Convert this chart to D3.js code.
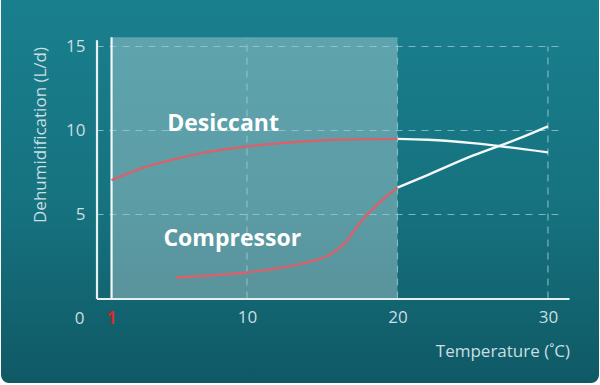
<!DOCTYPE html>
<html>
<head>
<meta charset="utf-8">
<script src="https://cdn.jsdelivr.net/npm/d3@7"></script>
<style>
  html, body { margin: 0; padding: 0; background: #ffffff; }
  svg { display: block; font-family: "Open Sans", "Noto Sans", sans-serif; }
</style>
</head>
<body>
<script>
// desiccant curve (temperature, L/d)
var desiccantT = [1, 3, 5, 7, 10, 13, 16, 20, 22, 25, 27, 30];
var desiccantV = [7.05, 7.75, 8.25, 8.65, 9.05, 9.3, 9.45, 9.5, 9.45, 9.25, 9.05, 8.7];

// compressor curve
var compressorT = [5.3, 8, 10, 12, 14, 15.5, 16.5, 17.5, 18.5, 19.3, 20, 22, 25, 28, 30];
var compressorV = [1.25, 1.4, 1.55, 1.8, 2.15, 2.6, 3.3, 4.5, 5.45, 6.1, 6.6, 7.35, 8.5, 9.5, 10.25];

var xTicks = [10, 20, 30];
var yTicks = [5, 10, 15];
var shadeFrom = 1, shadeTo = 20;

var width = 600, height = 385;

var x = d3.scaleLinear().domain([0, 31.4]).range([96.5, 569]);
var y = d3.scaleLinear().domain([0, 15.4]).range([298.5, 39.8]);

var svg = d3.select("body").append("svg")
    .attr("width", width)
    .attr("height", height);

var defs = svg.append("defs");
var grad = defs.append("linearGradient")
    .attr("id", "bg")
    .attr("x1", 0).attr("y1", 0).attr("x2", 0).attr("y2", 1);
grad.append("stop").attr("offset", "0%").attr("stop-color", "#1a808e");
grad.append("stop").attr("offset", "55%").attr("stop-color", "#16727f");
grad.append("stop").attr("offset", "100%").attr("stop-color", "#0f5965");

svg.append("rect")
    .attr("x", 1).attr("y", -10)
    .attr("width", 598).attr("height", 393)
    .attr("rx", 8)
    .attr("fill", "url(#bg)");

// shaded region
svg.append("rect")
    .attr("x", x(shadeFrom))
    .attr("y", y(15.55))
    .attr("width", x(shadeTo) - x(shadeFrom))
    .attr("height", y(0) - y(15.55))
    .attr("fill", "#ffffff")
    .attr("fill-opacity", 0.3);

// grid
var grid = svg.append("g")
    .attr("stroke", "#9fcbd2")
    .attr("stroke-opacity", 0.75)
    .attr("stroke-width", 1.2)
    .attr("stroke-dasharray", "7,6");

grid.selectAll(".hgrid")
    .data(yTicks)
    .enter().append("line")
    .attr("x1", x(0)).attr("x2", x(30.8))
    .attr("y1", function(d) { return y(d); })
    .attr("y2", function(d) { return y(d); });

grid.selectAll(".vgrid")
    .data(xTicks)
    .enter().append("line")
    .attr("x1", function(d) { return x(d); })
    .attr("x2", function(d) { return x(d); })
    .attr("y1", y(0))
    .attr("y2", function(d) { return d < 30 ? y(15.5) : y(15); });

// axes
var yAxis = svg.append("g")
    .attr("transform", "translate(" + x(0) + ",0)")
    .call(d3.axisLeft(y).tickValues(yTicks).tickSize(0).tickPadding(11));

var xAxis = svg.append("g")
    .attr("transform", "translate(0," + y(0) + ")")
    .call(d3.axisBottom(x).tickValues(xTicks).tickSize(0).tickPadding(12));

[yAxis, xAxis].forEach(function(a) {
    a.select(".domain")
        .attr("stroke", "#e6f0f1")
        .attr("stroke-width", 2.2);
    a.selectAll("text")
        .attr("fill", "#c9dfe2")
        .style("font-size", "17px")
        .style("font-family", "'Open Sans', 'Noto Sans', sans-serif");
});

// origin label
svg.append("text")
    .attr("x", x(0) - 17)
    .attr("y", y(0) + 25)
    .attr("text-anchor", "middle")
    .attr("fill", "#c9dfe2")
    .style("font-size", "17px")
    .text("0");

svg.append("text")
    .attr("x", x(1))
    .attr("y", y(0) + 25)
    .attr("text-anchor", "middle")
    .attr("fill", "#d42a2a")
    .style("font-size", "17px")
    .style("font-weight", "bold")
    .text("1");

// vertical marker at 1
svg.append("line")
    .attr("x1", x(shadeFrom)).attr("x2", x(shadeFrom))
    .attr("y1", y(15.55)).attr("y2", y(0))
    .attr("stroke", "#f2f7f7")
    .attr("stroke-width", 2.2);

// curves
var line = d3.line()
    .x(function(d) { return x(d[0]); })
    .y(function(d) { return y(d[1]); })
    .curve(d3.curveMonotoneX);

function drawCurve(ts, vs) {
    var pts = ts.map(function(t, i) { return [t, vs[i]]; });
    var inside = pts.filter(function(d) { return d[0] <= shadeTo; });
    var outside = pts.filter(function(d) { return d[0] >= shadeTo; });
    svg.append("path")
        .datum(outside)
        .attr("d", line)
        .attr("fill", "none")
        .attr("stroke", "#f4f8f8")
        .attr("stroke-width", 2.4);
    svg.append("path")
        .datum(inside)
        .attr("d", line)
        .attr("fill", "none")
        .attr("stroke", "#d8626b")
        .attr("stroke-width", 2.4);
}

drawCurve(desiccantT, desiccantV);
drawCurve(compressorT, compressorV);

// series labels
svg.append("text")
    .attr("x", x(4.7))
    .attr("y", y(10.0))
    .attr("fill", "#ffffff")
    .style("font-size", "23px")
    .style("font-weight", "bold")
    .text("Desiccant");

svg.append("text")
    .attr("x", x(4.45))
    .attr("y", y(3.15))
    .attr("fill", "#ffffff")
    .style("font-size", "23px")
    .style("font-weight", "bold")
    .text("Compressor");

// axis titles
svg.append("text")
    .attr("transform", "translate(46,135) rotate(-90)")
    .attr("text-anchor", "middle")
    .attr("fill", "#c9dfe2")
    .style("font-size", "17px")
    .text("Dehumidification (L/d)");

svg.append("text")
    .attr("x", 570)
    .attr("y", 357)
    .attr("text-anchor", "end")
    .attr("fill", "#c9dfe2")
    .style("font-size", "17px")
    .text("Temperature (˚C)");
</script>
</body>
</html>
